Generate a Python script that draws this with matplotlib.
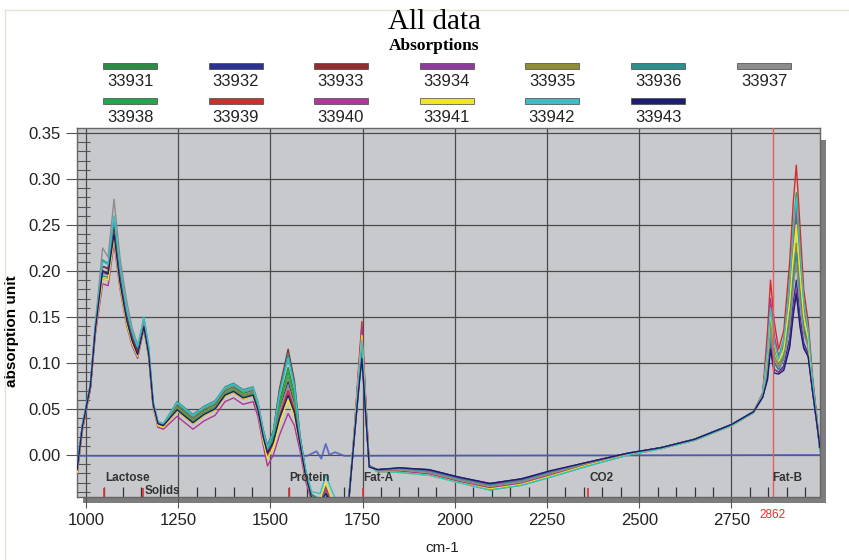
import numpy as np
import matplotlib
matplotlib.use("Agg")
import matplotlib.pyplot as plt
from matplotlib.patches import Rectangle
from matplotlib.lines import Line2D
from matplotlib.ticker import MultipleLocator
import matplotlib.transforms as mtransforms

wavenumbers = [976, 990, 1000, 1012, 1025, 1045, 1060, 1076, 1092, 1110, 1125, 1140, 1157, 1170,
               1182, 1195, 1210, 1247, 1290, 1320, 1350, 1377, 1400, 1426, 1453, 1466, 1480, 1492,
               1508, 1525, 1548, 1565, 1580, 1595, 1612, 1635, 1650, 1668, 1690, 1712, 1727, 1740,
               1748, 1757, 1768, 1790, 1850, 1930, 2010, 2095, 2180, 2260, 2360, 2470, 2560, 2650,
               2750, 2810, 2835, 2848, 2856, 2866, 2878, 2892, 2908, 2918, 2926, 2936, 2946, 2958,
               2970, 2982, 2990]

s33931 = [-0.018, 0.030, 0.052, 0.076, 0.136, 0.200, 0.198, 0.245, 0.192, 0.150, 0.127, 0.111, 0.142, 0.111,
          0.056, 0.034, 0.032, 0.054, 0.040, 0.049, 0.055, 0.070, 0.074, 0.067, 0.070, 0.054, 0.024, 0.004,
          0.022, 0.059, 0.095, 0.067, 0.019, -0.018, -0.044, -0.050, -0.040, -0.052, -0.066, -0.050, 0.020, 0.088,
          0.125, 0.062, -0.012, -0.017, -0.018, -0.021, -0.029, -0.036, -0.031, -0.022, -0.010, 0.001, 0.008, 0.017,
          0.033, 0.047, 0.066, 0.107, 0.150, 0.116, 0.101, 0.118, 0.173, 0.227, 0.260, 0.206, 0.153, 0.130,
          0.078, 0.036, 0.006]
s33932 = [-0.014, 0.032, 0.050, 0.075, 0.136, 0.205, 0.203, 0.248, 0.195, 0.152, 0.128, 0.113, 0.143, 0.113,
          0.055, 0.035, 0.033, 0.052, 0.038, 0.047, 0.053, 0.068, 0.072, 0.065, 0.068, 0.052, 0.024, 0.008,
          0.020, 0.051, 0.080, 0.056, 0.016, -0.020, -0.046, -0.052, -0.040, -0.054, -0.066, -0.052, 0.018, 0.077,
          0.110, 0.055, -0.013, -0.016, -0.014, -0.016, -0.024, -0.031, -0.026, -0.018, -0.008, 0.002, 0.008, 0.017,
          0.033, 0.046, 0.063, 0.086, 0.120, 0.093, 0.090, 0.097, 0.127, 0.166, 0.190, 0.150, 0.122, 0.110,
          0.070, 0.034, 0.008]
s33933 = [-0.016, 0.030, 0.050, 0.074, 0.135, 0.205, 0.202, 0.245, 0.192, 0.150, 0.127, 0.112, 0.142, 0.111,
          0.056, 0.035, 0.033, 0.056, 0.042, 0.051, 0.057, 0.072, 0.076, 0.069, 0.072, 0.056, 0.028, 0.010,
          0.026, 0.073, 0.115, 0.081, 0.022, -0.016, -0.044, -0.050, -0.036, -0.052, -0.064, -0.050, 0.020, 0.084,
          0.120, 0.060, -0.012, -0.016, -0.015, -0.018, -0.026, -0.033, -0.028, -0.019, -0.009, 0.001, 0.008, 0.017,
          0.033, 0.047, 0.065, 0.093, 0.130, 0.100, 0.093, 0.105, 0.143, 0.188, 0.215, 0.170, 0.135, 0.118,
          0.073, 0.035, 0.006]
s33934 = [-0.017, 0.029, 0.049, 0.074, 0.134, 0.198, 0.196, 0.238, 0.187, 0.146, 0.123, 0.108, 0.138, 0.108,
          0.054, 0.034, 0.031, 0.050, 0.036, 0.045, 0.051, 0.066, 0.070, 0.063, 0.066, 0.050, 0.020, 0.002,
          0.014, 0.043, 0.070, 0.049, 0.013, -0.022, -0.046, -0.050, -0.040, -0.053, -0.066, -0.051, 0.018, 0.077,
          0.110, 0.055, -0.012, -0.016, -0.015, -0.017, -0.025, -0.032, -0.027, -0.018, -0.008, 0.002, 0.008, 0.017,
          0.033, 0.047, 0.064, 0.086, 0.120, 0.093, 0.090, 0.094, 0.120, 0.158, 0.180, 0.143, 0.118, 0.108,
          0.069, 0.033, 0.007]
s33935 = [-0.016, 0.030, 0.050, 0.075, 0.135, 0.200, 0.197, 0.240, 0.188, 0.147, 0.124, 0.109, 0.139, 0.109,
          0.055, 0.034, 0.032, 0.052, 0.038, 0.047, 0.053, 0.068, 0.072, 0.065, 0.068, 0.052, 0.022, 0.004,
          0.019, 0.053, 0.085, 0.060, 0.016, -0.020, -0.045, -0.050, -0.038, -0.052, -0.065, -0.050, 0.020, 0.088,
          0.125, 0.062, -0.012, -0.017, -0.016, -0.019, -0.027, -0.034, -0.029, -0.020, -0.009, 0.001, 0.008, 0.017,
          0.033, 0.047, 0.065, 0.100, 0.140, 0.108, 0.097, 0.109, 0.153, 0.201, 0.230, 0.182, 0.141, 0.122,
          0.074, 0.035, 0.005]
s33936 = [-0.015, 0.032, 0.052, 0.077, 0.138, 0.212, 0.208, 0.258, 0.203, 0.158, 0.133, 0.117, 0.149, 0.117,
          0.058, 0.036, 0.034, 0.058, 0.044, 0.053, 0.059, 0.074, 0.078, 0.071, 0.074, 0.058, 0.028, 0.010,
          0.026, 0.070, 0.110, 0.078, 0.021, -0.016, -0.043, -0.048, -0.034, -0.050, -0.063, -0.049, 0.019, 0.080,
          0.115, 0.058, -0.012, -0.016, -0.015, -0.018, -0.026, -0.033, -0.028, -0.019, -0.009, 0.001, 0.008, 0.017,
          0.033, 0.047, 0.065, 0.093, 0.130, 0.100, 0.093, 0.106, 0.147, 0.193, 0.220, 0.174, 0.138, 0.120,
          0.072, 0.034, 0.006]
s33937 = [-0.015, 0.032, 0.052, 0.078, 0.142, 0.225, 0.215, 0.278, 0.215, 0.168, 0.138, 0.120, 0.145, 0.115,
          0.056, 0.035, 0.033, 0.056, 0.042, 0.051, 0.057, 0.072, 0.076, 0.069, 0.072, 0.056, 0.026, 0.006,
          0.018, 0.047, 0.075, 0.053, 0.015, -0.020, -0.046, -0.051, -0.040, -0.053, -0.066, -0.051, 0.017, 0.074,
          0.105, 0.053, -0.013, -0.017, -0.016, -0.019, -0.027, -0.034, -0.029, -0.020, -0.009, 0.001, 0.008, 0.017,
          0.033, 0.047, 0.065, 0.096, 0.135, 0.104, 0.095, 0.103, 0.140, 0.184, 0.210, 0.166, 0.132, 0.117,
          0.071, 0.034, 0.006]
s33938 = [-0.018, 0.028, 0.049, 0.074, 0.134, 0.195, 0.193, 0.236, 0.185, 0.144, 0.122, 0.107, 0.137, 0.107,
          0.054, 0.033, 0.031, 0.050, 0.036, 0.045, 0.051, 0.066, 0.070, 0.063, 0.066, 0.050, 0.020, 0.002,
          0.018, 0.055, 0.090, 0.063, 0.017, -0.020, -0.045, -0.050, -0.040, -0.052, -0.066, -0.050, 0.022, 0.091,
          0.130, 0.065, -0.012, -0.018, -0.019, -0.022, -0.030, -0.038, -0.033, -0.024, -0.012, 0.000, 0.007, 0.016,
          0.032, 0.046, 0.066, 0.118, 0.165, 0.127, 0.106, 0.126, 0.190, 0.249, 0.285, 0.226, 0.170, 0.138,
          0.082, 0.038, 0.004]
s33939 = [-0.020, 0.027, 0.048, 0.073, 0.132, 0.192, 0.190, 0.236, 0.185, 0.144, 0.122, 0.107, 0.140, 0.108,
          0.053, 0.032, 0.030, 0.048, 0.034, 0.043, 0.049, 0.064, 0.068, 0.061, 0.064, 0.048, 0.018, 0.000,
          0.012, 0.042, 0.070, 0.049, 0.013, -0.024, -0.048, -0.050, -0.036, -0.054, -0.068, -0.052, 0.024, 0.100,
          0.145, 0.072, -0.011, -0.018, -0.018, -0.021, -0.029, -0.036, -0.031, -0.022, -0.011, 0.000, 0.007, 0.016,
          0.032, 0.046, 0.068, 0.135, 0.190, 0.145, 0.115, 0.135, 0.210, 0.276, 0.315, 0.249, 0.180, 0.145,
          0.085, 0.040, 0.004]
s33940 = [-0.021, 0.026, 0.047, 0.072, 0.130, 0.186, 0.184, 0.230, 0.181, 0.141, 0.119, 0.105, 0.138, 0.106,
          0.052, 0.030, 0.028, 0.042, 0.028, 0.037, 0.043, 0.058, 0.062, 0.055, 0.058, 0.042, 0.012, -0.012,
          0.000, 0.022, 0.045, 0.032, 0.005, -0.028, -0.050, -0.052, -0.036, -0.054, -0.068, -0.052, 0.023, 0.097,
          0.140, 0.070, -0.011, -0.018, -0.018, -0.021, -0.029, -0.036, -0.031, -0.022, -0.011, 0.000, 0.007, 0.016,
          0.032, 0.046, 0.066, 0.121, 0.170, 0.130, 0.107, 0.121, 0.180, 0.236, 0.270, 0.214, 0.163, 0.134,
          0.080, 0.037, 0.004]
s33941 = [-0.019, 0.028, 0.049, 0.074, 0.133, 0.192, 0.190, 0.235, 0.184, 0.143, 0.121, 0.107, 0.138, 0.107,
          0.053, 0.032, 0.030, 0.048, 0.034, 0.043, 0.049, 0.064, 0.068, 0.061, 0.064, 0.048, 0.016, -0.004,
          0.008, 0.034, 0.060, 0.042, 0.011, -0.024, -0.047, -0.048, -0.030, -0.050, -0.066, -0.051, 0.022, 0.091,
          0.130, 0.065, -0.012, -0.018, -0.019, -0.022, -0.030, -0.037, -0.032, -0.023, -0.011, 0.000, 0.007, 0.016,
          0.032, 0.046, 0.066, 0.111, 0.155, 0.120, 0.102, 0.115, 0.167, 0.219, 0.250, 0.198, 0.151, 0.127,
          0.077, 0.036, 0.005]
s33942 = [-0.015, 0.032, 0.052, 0.077, 0.138, 0.210, 0.207, 0.260, 0.204, 0.159, 0.134, 0.118, 0.150, 0.118,
          0.058, 0.036, 0.034, 0.057, 0.043, 0.052, 0.058, 0.073, 0.077, 0.070, 0.073, 0.057, 0.027, 0.008,
          0.024, 0.066, 0.105, 0.074, 0.020, -0.016, -0.040, -0.042, -0.022, -0.040, -0.060, -0.048, 0.020, 0.088,
          0.125, 0.062, -0.012, -0.018, -0.019, -0.022, -0.030, -0.038, -0.033, -0.024, -0.012, 0.000, 0.007, 0.016,
          0.032, 0.046, 0.066, 0.114, 0.160, 0.123, 0.104, 0.124, 0.187, 0.245, 0.280, 0.222, 0.168, 0.136,
          0.081, 0.037, 0.004]
s33943 = [-0.016, 0.030, 0.050, 0.075, 0.135, 0.200, 0.197, 0.240, 0.188, 0.147, 0.124, 0.109, 0.139, 0.109,
          0.055, 0.034, 0.032, 0.049, 0.035, 0.044, 0.050, 0.065, 0.069, 0.062, 0.065, 0.049, 0.020, 0.002,
          0.014, 0.040, 0.065, 0.046, 0.012, -0.022, -0.047, -0.052, -0.042, -0.054, -0.066, -0.052, 0.017, 0.074,
          0.105, 0.053, -0.013, -0.016, -0.014, -0.016, -0.024, -0.031, -0.026, -0.017, -0.008, 0.002, 0.008, 0.017,
          0.033, 0.047, 0.063, 0.082, 0.115, 0.089, 0.088, 0.092, 0.117, 0.153, 0.175, 0.139, 0.116, 0.107,
          0.069, 0.033, 0.008]

sample_names = ["33931", "33932", "33933", "33934", "33935", "33936", "33937",
                "33938", "33939", "33940", "33941", "33942", "33943"]
spectra = [s33931, s33932, s33933, s33934, s33935, s33936, s33937,
           s33938, s33939, s33940, s33941, s33942, s33943]
sample_colors = ["#2e8b45", "#2c3290", "#8e2e2e", "#8e3c9c", "#8e8e3a", "#2e8e8e", "#8c8c8c",
                 "#22a84c", "#d42c2c", "#b23598", "#f0e81c", "#34c2c4", "#1c1c74"]

# zero reference line
zero_wn = [976, 1600, 1625, 1638, 1650, 1660, 1675, 1700, 2990]
zero_val = [-0.001, -0.001, 0.004, -0.004, 0.012, 0.000, 0.003, -0.001, 0.000]

# region markers
marker_wn = [1050, 1155, 1550, 1750, 2360]
region_labels = ["Lactose", "Solids", "Protein", "Fat-A", "CO2", "Fat-B"]
region_x = [1052, 1160, 1552, 1753, 2364, 2862]
region_y = [-0.025, -0.039, -0.025, -0.025, -0.025, -0.025]
fat_b_line = 2862

W, H = 849, 560
fig = plt.figure(figsize=(W / 100, H / 100), dpi=100)

ax_l, ax_b, ax_w, ax_h = 77 / W, 63 / H, 743 / W, 369 / H
ax = fig.add_axes([ax_l, ax_b, ax_w, ax_h])

# drop shadow behind the plot area
fig.add_artist(Rectangle((ax_l + 6 / W, ax_b - 6 / H), ax_w, ax_h - 6 / H, transform=fig.transFigure,
                         facecolor="#7d7d7d", edgecolor="none", zorder=-1))
# thin outer frame
fig.add_artist(Line2D([5 / W, 1], [(H - 10) / H] * 2, transform=fig.transFigure, color="#e6e3d3", lw=1))
fig.add_artist(Line2D([5 / W] * 2, [0, (H - 10) / H], transform=fig.transFigure, color="#e6e3d3", lw=1))

ax.set_facecolor("#c7c9cd")
ax.set_xlim(975.6, 2990.2)
ax.set_ylim(-0.0457, 0.3554)

ax.xaxis.set_major_locator(MultipleLocator(250))
ax.xaxis.set_minor_locator(MultipleLocator(50))
ax.yaxis.set_major_locator(MultipleLocator(0.05))
ax.yaxis.set_minor_locator(MultipleLocator(0.01))
ax.grid(True, which="major", color="#4a4a4a", lw=0.9)
ax.set_axisbelow(True)

ax.tick_params(axis="both", which="major", direction="out", length=8, color="#555555",
               labelsize=12, labelcolor="#222222")
ax.tick_params(axis="y", which="minor", direction="in", length=9, color="#555555", width=0.8)
ax.tick_params(axis="x", which="minor", direction="in", length=7, color="#333333", width=0.9)
ax.set_yticks([0.0, 0.05, 0.1, 0.15, 0.2, 0.25, 0.3, 0.35])
ax.set_yticklabels(["0.00", "0.05", "0.10", "0.15", "0.20", "0.25", "0.30", "0.35"])
ax.set_xticks([1000, 1250, 1500, 1750, 2000, 2250, 2500, 2750])
for sp in ax.spines.values():
    sp.set_color("#666666")
    sp.set_linewidth(1)

for name, vals, col in zip(sample_names, spectra, sample_colors):
    ax.plot(wavenumbers, vals, color=col, lw=1.0, zorder=3)

ax.plot(zero_wn, zero_val, color="#4a5cc4", lw=1.3, alpha=0.85, zorder=2)

# red marker ticks on the bottom edge
trans = mtransforms.blended_transform_factory(ax.transData, ax.transAxes)
ax.vlines(marker_wn, 0, 0.024, transform=trans, color="#e03030", lw=1.2, zorder=4)
ax.axvline(fat_b_line, color="#ec5a5a", lw=1, zorder=4)

for lab, x, y in zip(region_labels, region_x, region_y):
    ax.text(x, y, lab, fontsize=8.5, fontweight="bold", color="#333333",
            family="Liberation Sans", va="center", ha="left", zorder=5)

ax.text(fat_b_line, -18 / 369, str(fat_b_line), transform=trans, color="#e03030", fontsize=8.5,
        family="Liberation Sans", ha="center", va="center")

for t in ax.get_xticklabels() + ax.get_yticklabels():
    t.set_family("Liberation Sans")

fig.text(442 / W, 1 - 548 / H, "cm-1", fontsize=11, family="Liberation Sans",
         ha="center", va="center", color="#222222")
ax.set_ylabel("absorption unit", fontsize=11, fontweight="bold", family="Liberation Sans")
ax.yaxis.set_label_coords(-0.078, 0.45)

# title
fig.text(434 / W, 1 - 22 / H, "All data", family="Liberation Serif", fontsize=21,
         ha="center", va="center")
fig.text(434 / W, 1 - 46 / H, "Absorptions", family="Liberation Serif", fontsize=12.5,
         fontweight="bold", ha="center", va="center")

# legend laid out as in the original: 2 rows x 7 columns
col_x = [130, 236, 341, 447, 552, 658, 764]
for i, (name, col) in enumerate(zip(sample_names, sample_colors)):
    r, c = divmod(i, 7)
    cx = col_x[c]
    by = 66 + r * 35
    fig.add_artist(Rectangle(((cx - 27) / W, 1 - (by + 3) / H), 54 / W, 6 / H,
                             transform=fig.transFigure, facecolor=col,
                             edgecolor="#444444", lw=0.5))
    fig.text(cx / W, 1 - (by + 16) / H, name, family="Liberation Sans", fontsize=12,
             color="#222222", ha="center", va="center")

fig.savefig("out.png", dpi=100)
